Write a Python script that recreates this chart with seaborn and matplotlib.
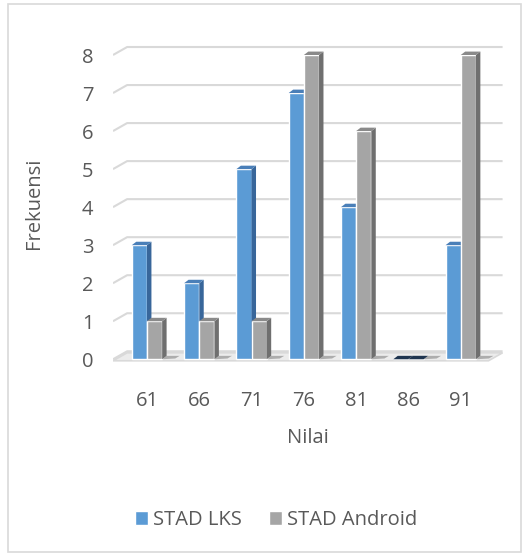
import matplotlib
matplotlib.use("Agg")
import matplotlib.pyplot as plt
import seaborn as sns
import pandas as pd
from matplotlib.patches import Polygon, Rectangle, Patch

# data
nilai = ['61', '66', '71', '76', '81', '86', '91']
stad_lks = [3, 2, 5, 7, 4, 0, 3]
stad_android = [1, 1, 1, 8, 6, 0, 8]
y_ticks = [0, 1, 2, 3, 4, 5, 6, 7, 8]

df = pd.DataFrame({
    'Nilai': nilai * 2,
    'Frekuensi': stad_lks + stad_android,
    'Kelas': ['STAD LKS'] * len(nilai) + ['STAD Android'] * len(nilai),
})

sns.set_style('white')
plt.rcParams['font.family'] = ['Open Sans', 'DejaVu Sans']

front = {'STAD LKS': '#5b9bd5', 'STAD Android': '#a5a5a5'}
side = {'STAD LKS': '#38669a', 'STAD Android': '#6f6f6f'}
top = {'STAD LKS': '#4a7fb8', 'STAD Android': '#8a8a8a'}
txt = '#595959'
fs = 14.5

fig = plt.figure(figsize=(5.32, 5.56), dpi=100)
ax = fig.add_axes([0.2124, 0.347, 0.7323, 0.5746])

sns.barplot(data=df, x='Nilai', y='Frekuensi', hue='Kelas', palette=front,
            width=0.58, saturation=1, ax=ax, legend=False)

# fake 3d depth
dx, dy = 0.085, 0.09
x_lo, x_hi = -0.65, 6.8
back_dx, back_dy = 0.27, 0.21

# back wall gridlines with slanted start
for t in y_ticks:
    ax.plot([x_lo, x_lo + back_dx, x_hi], [t, t + back_dy, t + back_dy],
            color='#d9d9d9', lw=1.5, zorder=0.5, solid_capstyle='butt')

# floor
ax.add_patch(Polygon([(x_lo, -0.04), (x_lo + back_dx, back_dy - 0.04),
                      (x_hi, back_dy - 0.04), (x_hi - back_dx, -0.04)],
                     closed=True, facecolor='#ececec', edgecolor='#d9d9d9',
                     lw=1.2, zorder=0.6))

kelas_order = ['STAD LKS', 'STAD Android']
n = len(nilai)
for i, bar in enumerate(ax.patches[:2 * n]):
    k = kelas_order[i // n]
    z = 2 + i // n
    x0, w, h = bar.get_x(), bar.get_width(), bar.get_height()
    bar.set_zorder(z)
    # shadow on the floor
    ax.add_patch(Polygon([(x0 + w, 0), (x0 + w + 0.25, 0.02),
                          (x0 + w + 0.25 + dx, dy), (x0 + w + dx, dy)],
                         closed=True, facecolor='#3a3a3a', alpha=0.35,
                         edgecolor='none', zorder=1))
    ax.add_patch(Polygon([(x0 + w, 0), (x0 + w + dx, dy),
                          (x0 + w + dx, h + dy), (x0 + w, h)],
                         closed=True, facecolor=side[k], edgecolor='none', zorder=z))
    ax.add_patch(Polygon([(x0, h), (x0 + dx, h + dy),
                          (x0 + w + dx, h + dy), (x0 + w, h)],
                         closed=True, facecolor=top[k] if h > 0 else '#1f3550',
                         edgecolor='none', zorder=z))

ax.set_xlim(x_lo, x_hi)
ax.set_ylim(-0.1, 8.3)
ax.set_yticks(y_ticks)
ax.tick_params(axis='both', length=0, labelsize=fs, labelcolor=txt)
ax.tick_params(axis='y', pad=14)
ax.tick_params(axis='x', pad=20)
ax.set_xlabel('Nilai', fontsize=fs, color=txt, labelpad=12)
ax.set_ylabel('Frekuensi', fontsize=fs, color=txt, labelpad=27)
sns.despine(ax=ax, left=True, bottom=True)

handles = [Patch(facecolor=front[k], label=k) for k in kelas_order]
fig.legend(handles=handles, loc='center', bbox_to_anchor=(0.519, 0.065), ncol=2,
           frameon=False, fontsize=fs, labelcolor=txt, handlelength=0.66,
           handleheight=0.66, handletextpad=0.25, columnspacing=1.35)

fig.patches.append(Rectangle((0.015, 0.0072), 0.964, 0.9856, transform=fig.transFigure,
                             fill=False, edgecolor='#d9d9d9', lw=1.2))

fig.savefig('out.png', dpi=100)
